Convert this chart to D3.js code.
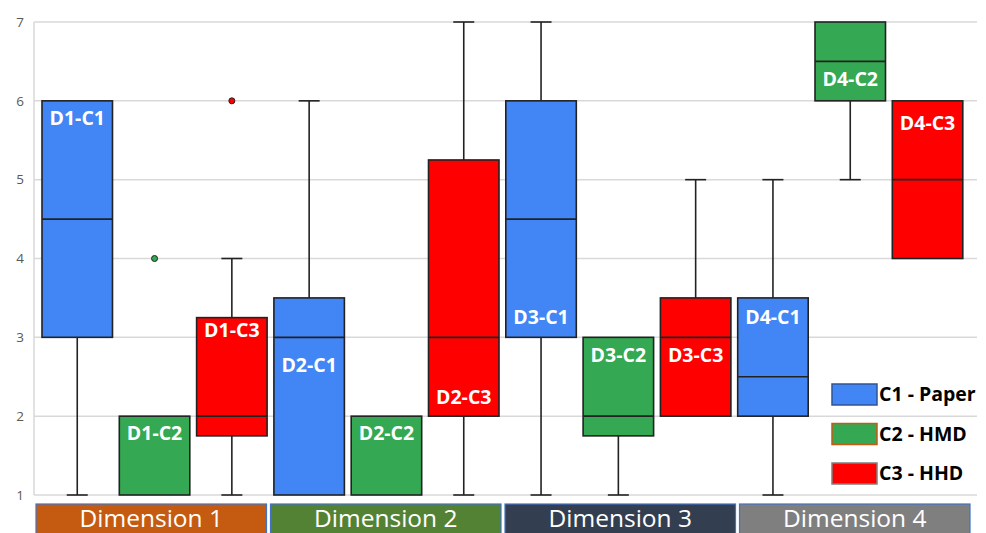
<!DOCTYPE html>
<html>
<head>
<meta charset="utf-8">
<script src="https://cdn.jsdelivr.net/npm/d3@7"></script>
<style>
  html, body { margin: 0; padding: 0; background: #fff; }
  svg { display: block; }
</style>
</head>
<body>
<svg id="chart" width="986" height="533"></svg>
<script>
// ---- data ----
const boxIds   = ["D1-C1","D1-C2","D1-C3","D2-C1","D2-C2","D2-C3","D3-C1","D3-C2","D3-C3","D4-C1","D4-C2","D4-C3"];
const boxGroup = ["C1","C2","C3","C1","C2","C3","C1","C2","C3","C1","C2","C3"];
const mins     = [1, 1, 1,    1, 1, 1,    1, 1,    2,   1,   5,   4];
const q1s      = [3, 1, 1.75, 1, 1, 2,    3, 1.75, 2,   2,   6,   4];
const medians  = [4.5, 1, 2,  3, 1, 3,    4.5, 2,  3,   2.5, 6.5, 5];
const q3s      = [6, 2, 3.25, 3.5, 2, 5.25, 6, 3,  3.5, 3.5, 7,   6];
const maxs     = [6, 2, 4,    6, 2, 7,    7, 3,    5,   5,   7,   6];
const outliers = [[], [4], [6], [], [], [], [], [], [], [], [], []];
const labelAt  = [5.78, 1.79, 3.09, 2.65, 1.79, 2.24, 3.25, 2.78, 2.78, 3.25, 6.27, 5.72];
const dimensions = ["Dimension 1","Dimension 2","Dimension 3","Dimension 4"];
const seriesKeys = ["C1","C2","C3"];
const seriesNames = ["C1 - Paper","C2 - HMD","C3 - HHD"];
const yTicks = [1,2,3,4,5,6,7];

// ---- styles ----
const fillColor = {C1: "#4285F4", C2: "#34A853", C3: "#FF0000"};
const legendStroke = {C1: "#2F5597", C2: "#C55A11", C3: "#7F7F7F"};
const dimColors = ["#C55A11", "#548235", "#333F50", "#7F7F7F"];

const svg = d3.select("#chart");
const plotLeft = 34, plotRight = 977;

const y = d3.scaleLinear().domain([1, 7]).range([495, 22]);
const x = d3.scaleBand().domain(boxIds).range([38.6, 966.2]).paddingInner(0.088).paddingOuter(0.044);
const dimX = d3.scaleBand().domain(dimensions).range([34, 972]);

// grid
svg.append("g").selectAll("line").data(yTicks).join("line")
  .attr("x1", plotLeft).attr("x2", plotRight)
  .attr("y1", d => y(d)).attr("y2", d => y(d))
  .attr("stroke", "#d9d9d9").attr("stroke-width", 1.5);
svg.append("line").attr("x1", plotLeft).attr("x2", plotLeft)
  .attr("y1", y(7)).attr("y2", y(1)).attr("stroke", "#d9d9d9").attr("stroke-width", 1.5);

// y axis
const yAxis = d3.axisLeft(y).tickValues(yTicks).tickSize(0).tickPadding(10).tickFormat(d3.format("d"));
const ga = svg.append("g").attr("transform", `translate(${plotLeft},0)`).call(yAxis);
ga.select(".domain").remove();
ga.selectAll("text").attr("font-family", "Open Sans, sans-serif").attr("font-size", 13.5).attr("fill", "#595959");

// boxes
const data = boxIds.map((id, i) => ({
  id, g: boxGroup[i], min: mins[i], q1: q1s[i], med: medians[i], q3: q3s[i], max: maxs[i],
  out: outliers[i], lab: labelAt[i]
}));
const bw = x.bandwidth();
const capW = 21;
const gb = svg.append("g").selectAll("g").data(data).join("g")
  .attr("transform", d => `translate(${x(d.id)},0)`);

// whiskers
gb.filter(d => d.max > d.q3).append("line")
  .attr("x1", bw/2).attr("x2", bw/2).attr("y1", d => y(d.q3)).attr("y2", d => y(d.max))
  .attr("stroke", "#222").attr("stroke-width", 1.6);
gb.filter(d => d.max > d.q3).append("line")
  .attr("x1", bw/2 - capW/2).attr("x2", bw/2 + capW/2).attr("y1", d => y(d.max)).attr("y2", d => y(d.max))
  .attr("stroke", "#222").attr("stroke-width", 1.6);
gb.filter(d => d.min < d.q1).append("line")
  .attr("x1", bw/2).attr("x2", bw/2).attr("y1", d => y(d.q1)).attr("y2", d => y(d.min))
  .attr("stroke", "#222").attr("stroke-width", 1.6);
gb.filter(d => d.min < d.q1).append("line")
  .attr("x1", bw/2 - capW/2).attr("x2", bw/2 + capW/2).attr("y1", d => y(d.min)).attr("y2", d => y(d.min))
  .attr("stroke", "#222").attr("stroke-width", 1.6);

// box rect
gb.append("rect")
  .attr("x", 0).attr("width", bw)
  .attr("y", d => y(d.q3)).attr("height", d => y(d.q1) - y(d.q3))
  .attr("fill", d => fillColor[d.g]).attr("stroke", "#222").attr("stroke-width", 1.6);
// median
gb.filter(d => d.med > d.q1 && d.med < d.q3).append("line")
  .attr("x1", 0).attr("x2", bw).attr("y1", d => y(d.med)).attr("y2", d => y(d.med))
  .attr("stroke", "#222").attr("stroke-width", 1.6);

// outliers
gb.selectAll("circle").data(d => d.out.map(v => ({v, g: d.g}))).join("circle")
  .attr("cx", bw/2).attr("cy", d => y(d.v)).attr("r", 3)
  .attr("fill", d => fillColor[d.g]).attr("stroke", "#222").attr("stroke-width", 1);

// labels
gb.append("text")
  .attr("x", bw/2).attr("y", d => y(d.lab)).attr("dy", "0.35em")
  .attr("text-anchor", "middle").attr("font-family", "Open Sans, sans-serif")
  .attr("font-weight", 700).attr("font-size", 19.5).attr("fill", "#fff")
  .text(d => d.id);

// dimension labels
const gd = svg.append("g").selectAll("g").data(dimensions).join("g");
gd.append("rect")
  .attr("x", d => dimX(d) + 2).attr("width", dimX.bandwidth() - 4)
  .attr("y", 504).attr("height", 40)
  .attr("fill", (d, i) => dimColors[i]).attr("stroke", "#4472C4").attr("stroke-width", 1.2);
gd.append("text")
  .attr("x", d => dimX(d) + dimX.bandwidth()/2).attr("y", 527)
  .attr("text-anchor", "middle").attr("font-family", "Open Sans, sans-serif")
  .attr("font-size", 24.5).attr("fill", "#fff").text(d => d);

// legend
const lg = svg.append("g").selectAll("g").data(seriesKeys).join("g")
  .attr("transform", (d, i) => `translate(832, ${384 + i * 39.5})`);
lg.append("rect").attr("width", 45).attr("height", 21)
  .attr("fill", d => fillColor[d]).attr("stroke", d => legendStroke[d]).attr("stroke-width", 1.5);
lg.append("text").attr("x", 47).attr("y", 10.5).attr("dy", "0.35em")
  .attr("font-family", "Open Sans, sans-serif").attr("font-weight", 700).attr("font-size", 19.5)
  .attr("fill", "#000").text((d, i) => seriesNames[i]);
</script>
</body>
</html>
